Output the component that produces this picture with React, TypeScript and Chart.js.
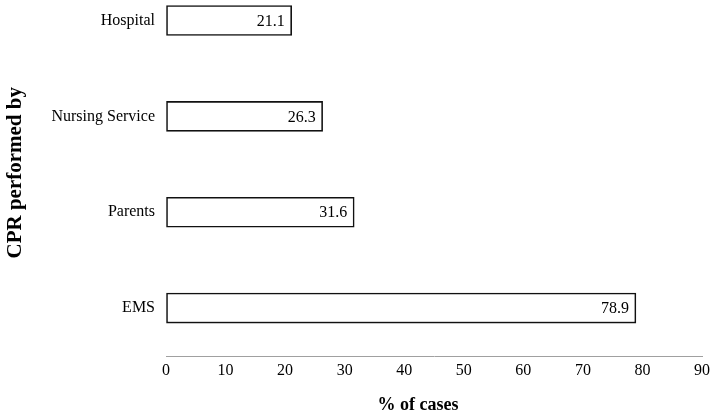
import React, { useEffect, useRef } from "react";
import { Chart, registerables } from "chart.js";

Chart.register(...registerables);

const categories = ["Hospital", "Nursing Service", "Parents", "EMS"];
const values = [21.1, 26.3, 31.6, 78.9];
const xTicks = [0, 10, 20, 30, 40, 50, 60, 70, 80, 90];
const yTitle = "CPR performed by";
const xTitle = "% of cases";

const FONT = "'Liberation Serif', 'Times New Roman', serif";

const valueLabels = {
  id: "valueLabels",
  afterDatasetsDraw(chart: any) {
    const ctx = chart.ctx;
    const meta = chart.getDatasetMeta(0);
    ctx.save();
    ctx.font = `16px ${FONT}`;
    ctx.fillStyle = "#000";
    ctx.textAlign = "right";
    ctx.textBaseline = "middle";
    meta.data.forEach((bar: any, i: number) => {
      ctx.fillText(values[i].toFixed(1), bar.x - 7, bar.y + 1);
    });
    ctx.restore();
  },
};

const titlesPlugin = {
  id: "titlesPlugin",
  afterDraw(chart: any) {
    const ctx = chart.ctx;
    const area = chart.chartArea;
    ctx.save();
    ctx.fillStyle = "#000";
    ctx.textAlign = "center";
    ctx.textBaseline = "middle";
    // y title
    ctx.save();
    ctx.translate(16, (area.top + area.bottom) / 2 + 8.5);
    ctx.rotate(-Math.PI / 2);
    ctx.font = `bold 21px ${FONT}`;
    ctx.fillText(yTitle, 0, 0);
    ctx.restore();
    // x title
    ctx.font = `bold 18px ${FONT}`;
    ctx.fillText(xTitle, (area.left + area.right) / 2 - 16, area.bottom + 49);
    ctx.restore();
  },
};

export default function App() {
  const ref = useRef<HTMLCanvasElement | null>(null);
  useEffect(() => {
    if (!ref.current) return;
    const chart = new Chart(ref.current, {
      type: "bar",
      data: {
        labels: categories,
        datasets: [
          {
            data: values,
            backgroundColor: "#ffffff",
            borderColor: "#111111",
            borderWidth: 1.6,
            borderSkipped: false,
            barThickness: 30,
          },
        ],
      },
      options: {
        indexAxis: "y",
        animation: false,
        responsive: true,
        maintainAspectRatio: false,
        layout: { padding: { top: 0, right: 0, bottom: 0, left: 0 } },
        plugins: {
          legend: { display: false },
          tooltip: { enabled: false },
        },
        scales: {
          x: {
            min: 0,
            max: 90,
            afterBuildTicks: (axis: any) => {
              axis.ticks = xTicks.map((v) => ({ value: v }));
            },
            afterFit: (axis: any) => {
              axis.height = 60;
            },
            grid: { display: true, drawOnChartArea: false, drawTicks: false },
            border: { display: true, color: "#a0a0a0", width: 1 },
            ticks: {
              color: "#000",
              font: { family: FONT, size: 16 },
              padding: 5,
              maxRotation: 0,
            },
            title: { display: false },
          },
          y: {
            afterFit: (axis: any) => {
              axis.width = 166;
            },
            grid: { display: false, drawTicks: false },
            border: { display: false },
            ticks: {
              color: "#000",
              font: { family: FONT, size: 16 },
              padding: 11,
            },
            title: { display: false },
          },
        },
      },
      plugins: [valueLabels, titlesPlugin],
    });
    return () => chart.destroy();
  }, []);
  return (
    <div
      style={{
        position: "fixed",
        left: 0,
        top: -48,
        width: 715,
        height: 464,
        background: "#fff",
      }}
    >
      <canvas ref={ref} />
    </div>
  );
}
